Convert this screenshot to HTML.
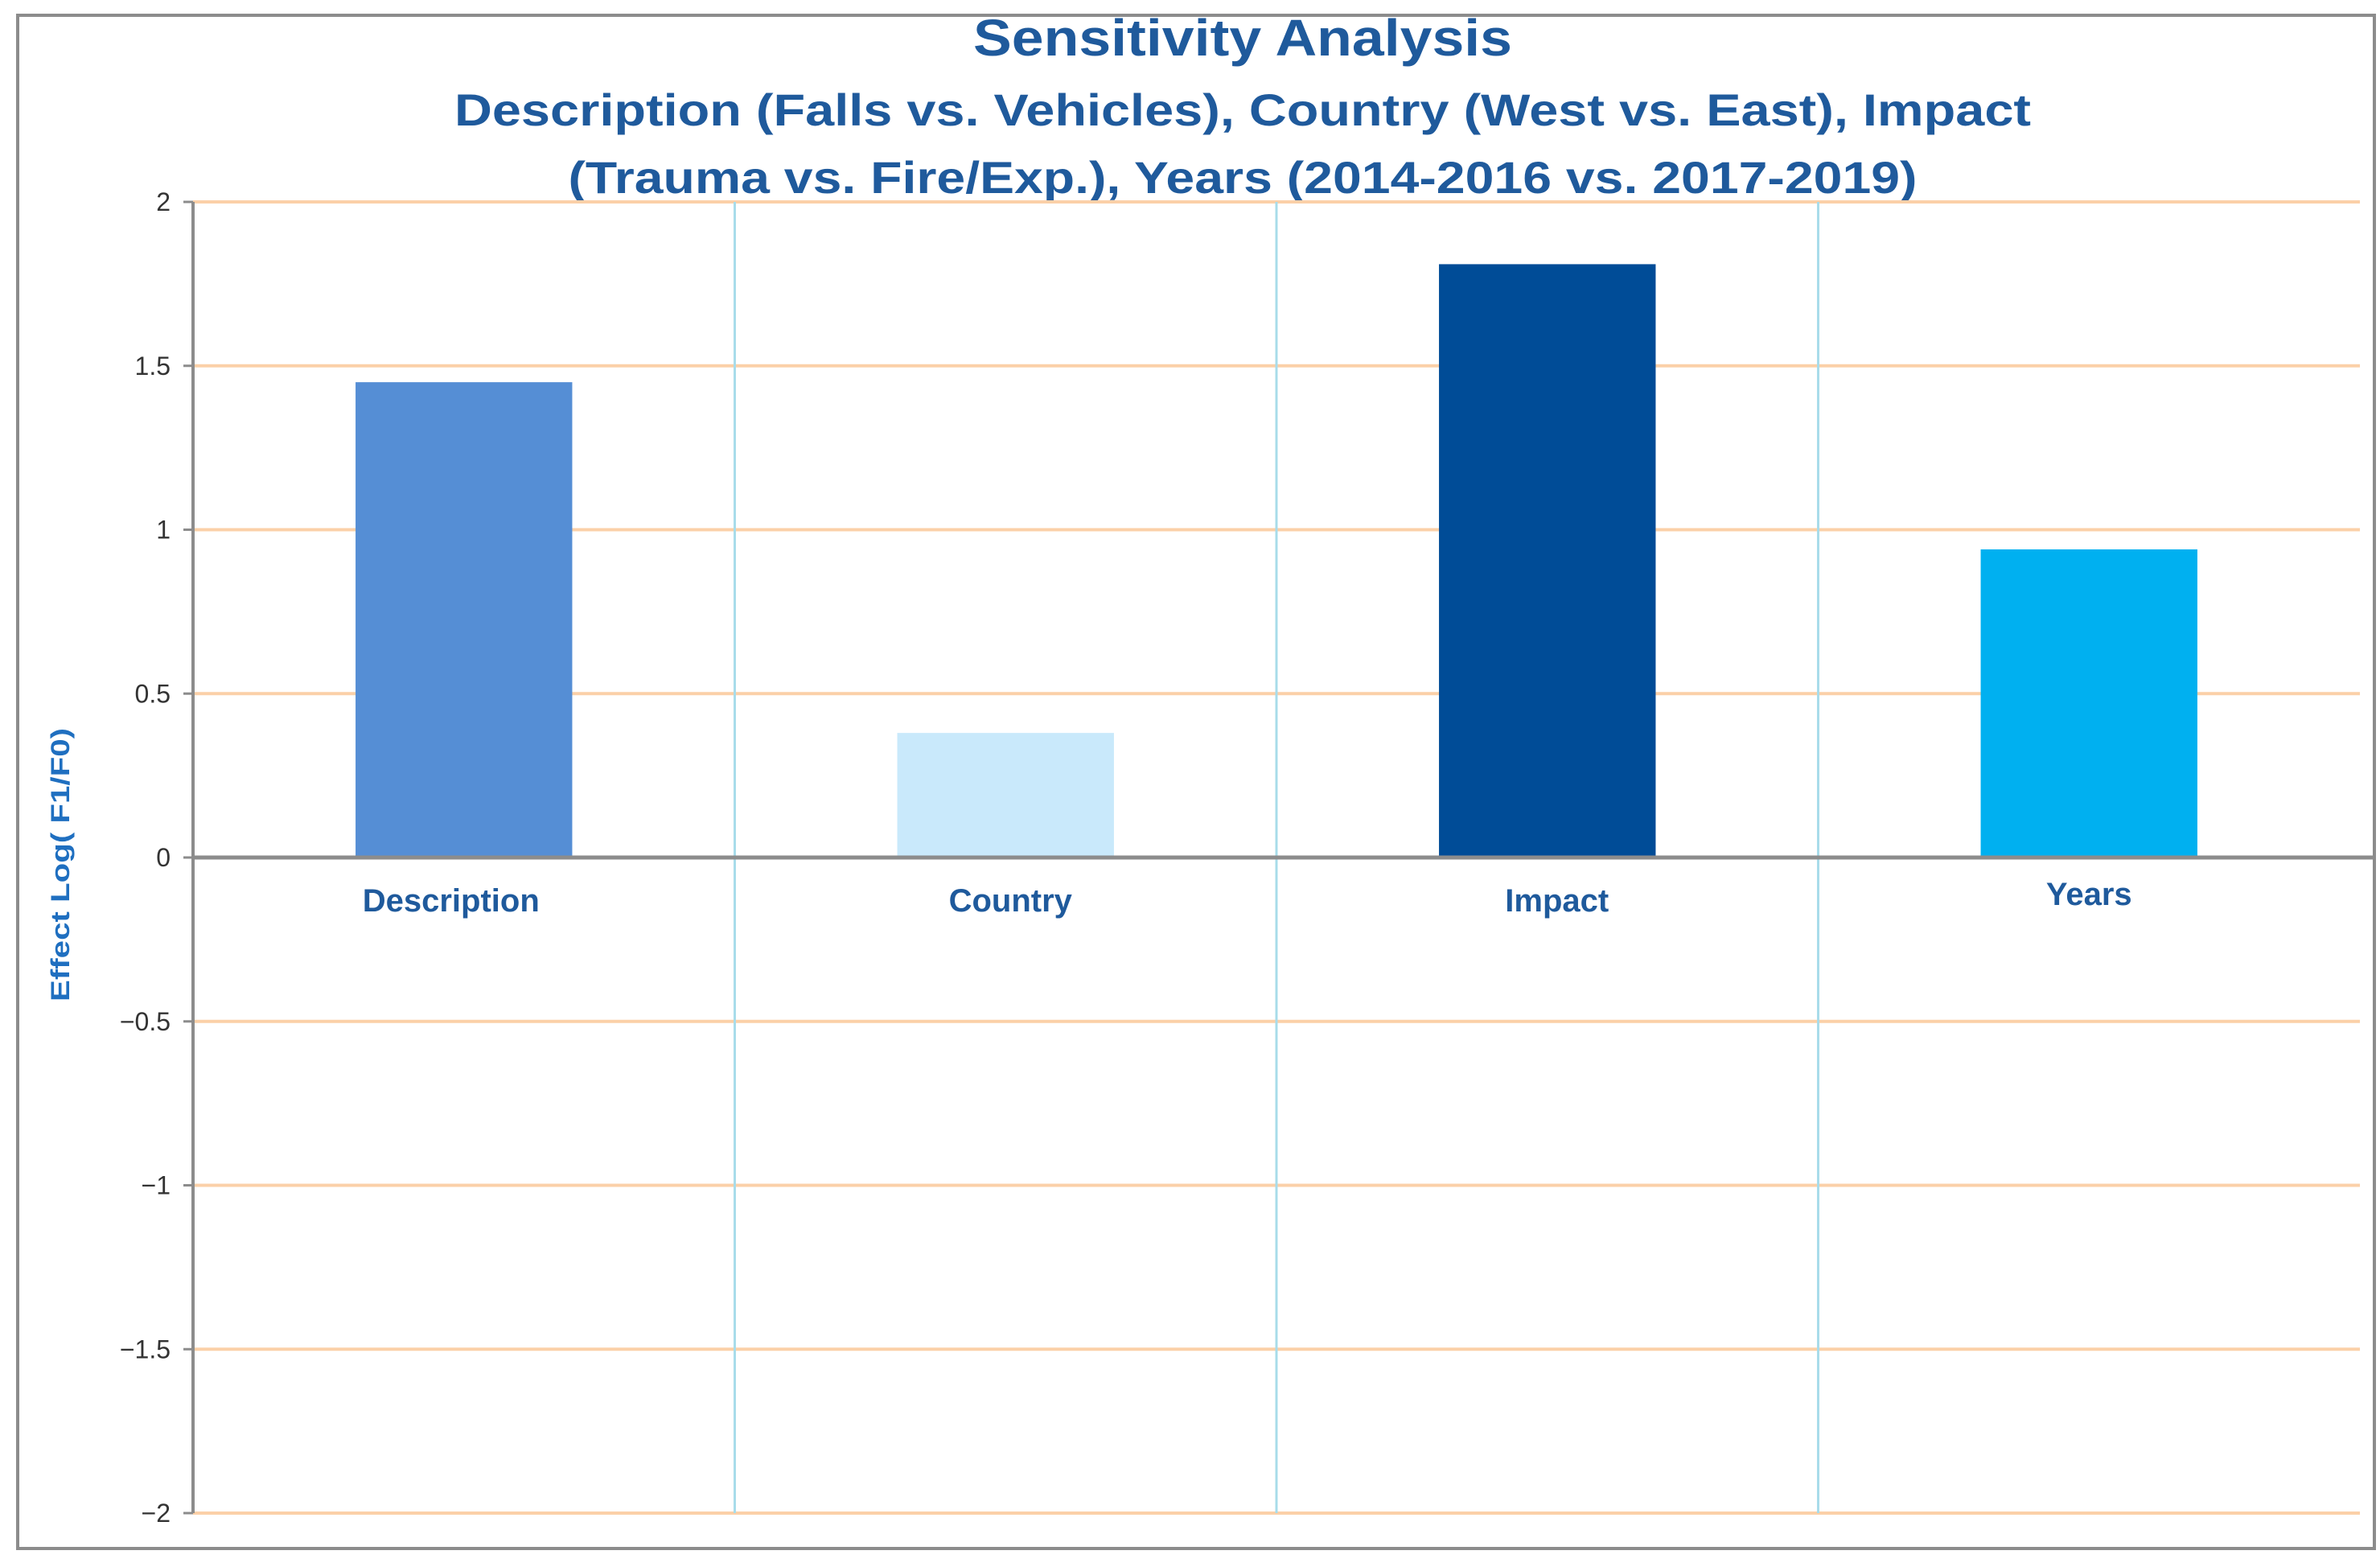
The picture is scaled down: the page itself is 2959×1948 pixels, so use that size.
<!DOCTYPE html>
<html><head><meta charset="utf-8"><style>
html,body{margin:0;padding:0;background:#fff}
svg{display:block}
text{font-family:"Liberation Sans",sans-serif}
</style></head><body>
<svg id="chart" width="2959" height="1948" viewBox="0 0 2959 1948" xmlns="http://www.w3.org/2000/svg">
<rect x="0" y="0" width="2959" height="1948" fill="#fff"/>
<rect x="22" y="19" width="2930" height="1906" fill="#fff" stroke="#8c8c8c" stroke-width="4"/>
<g fill="#1f5a9c" font-weight="bold" text-anchor="middle">
<text x="1545" y="69" font-size="64" textLength="670" lengthAdjust="spacingAndGlyphs">Sensitivity Analysis</text>
<text x="1545" y="156" font-size="56" textLength="1960" lengthAdjust="spacingAndGlyphs">Description (Falls vs. Vehicles), Country (West vs. East), Impact</text>
<text x="1545" y="240" font-size="56" textLength="1677" lengthAdjust="spacingAndGlyphs">(Trauma vs. Fire/Exp.), Years (2014-2016 vs. 2017-2019)</text>
</g>
<text transform="translate(86,1075) rotate(-90)" text-anchor="middle" font-size="32" font-weight="bold" fill="#1f6fc0" textLength="340" lengthAdjust="spacingAndGlyphs">Effect Log( F1/F0)</text>
<g id="grid"></g>
<g id="bars"></g>
<g id="axes"></g>
<g id="labels"></g>
</svg>
<script>
const categories = ["Description","Country","Impact","Years"];
const values = [1.45, 0.38, 1.81, 0.94];
const barColors = ["#558ed5","#c9e9fb","#004c97","#00b0f0"];
const yTicks = [2,1.5,1,0.5,0,-0.5,-1,-1.5,-2];
const yTickLabels = ["2","1.5","1","0.5","0","\u22120.5","\u22121","\u22121.5","\u22122"];

const NS="http://www.w3.org/2000/svg";
const plotL=240, plotR=2934, y0=1066, unit=407.5;
const catW=(plotR-plotL)/categories.length;
const labelShift=[-16,6,12,0];
function yScale(v){return y0 - v*unit;}
function xCenter(i){return plotL + catW*(i+0.5);}
function mk(tag,attrs,parent){const e=document.createElementNS(NS,tag);for(const k in attrs)e.setAttribute(k,attrs[k]);parent.appendChild(e);return e;}
const grid=document.getElementById('grid'), bars=document.getElementById('bars'), axes=document.getElementById('axes'), labels=document.getElementById('labels');

yTicks.forEach((t,i)=>{
  const y=yScale(t);
  if(t!==0){
    const g=mk('line',{x1:plotL,x2:plotR,y1:y,y2:y,stroke:'#fbd0a8','stroke-width':4},grid);
    
    
  }
  const tk=mk('line',{x1:plotL-12,x2:plotL,y1:y,y2:y,stroke:'#8c8c8c','stroke-width':3},axes);
  
  
  const lb=mk('text',{x:plotL-28,y:y+11,'text-anchor':'end','font-size':32,fill:'#333'},labels);
  lb.textContent=yTickLabels[i];
  
  
});
for(let i=1;i<categories.length;i++){
  const x=plotL+catW*i;
  const d=mk('line',{x1:x,x2:x,y1:yScale(2),y2:yScale(-2),stroke:'#a8dcea','stroke-width':3},grid);
  
  
}
const bw=catW*0.4;
categories.forEach((c,i)=>{
  const v=values[i];
  const top=Math.min(yScale(v),y0), h=Math.abs(yScale(v)-y0);
  const r=mk('rect',{x:xCenter(i)-bw/2,y:top,width:bw,height:h,fill:barColors[i]},bars);
  
  
  const t=mk('text',{x:xCenter(i)+labelShift[i],y:(i===3?1125:1133),'text-anchor':'middle','font-size':40,'font-weight':'bold',fill:'#1f5a9c'},labels);
  t.textContent=c;
  
  
});
const ya=mk('line',{x1:plotL,x2:plotL,y1:yScale(2),y2:yScale(-2),stroke:'#8c8c8c','stroke-width':4},axes);


const xa=mk('line',{x1:plotL,x2:plotR+18,y1:y0,y2:y0,stroke:'#8c8c8c','stroke-width':5},axes);


</script>
</body></html>
